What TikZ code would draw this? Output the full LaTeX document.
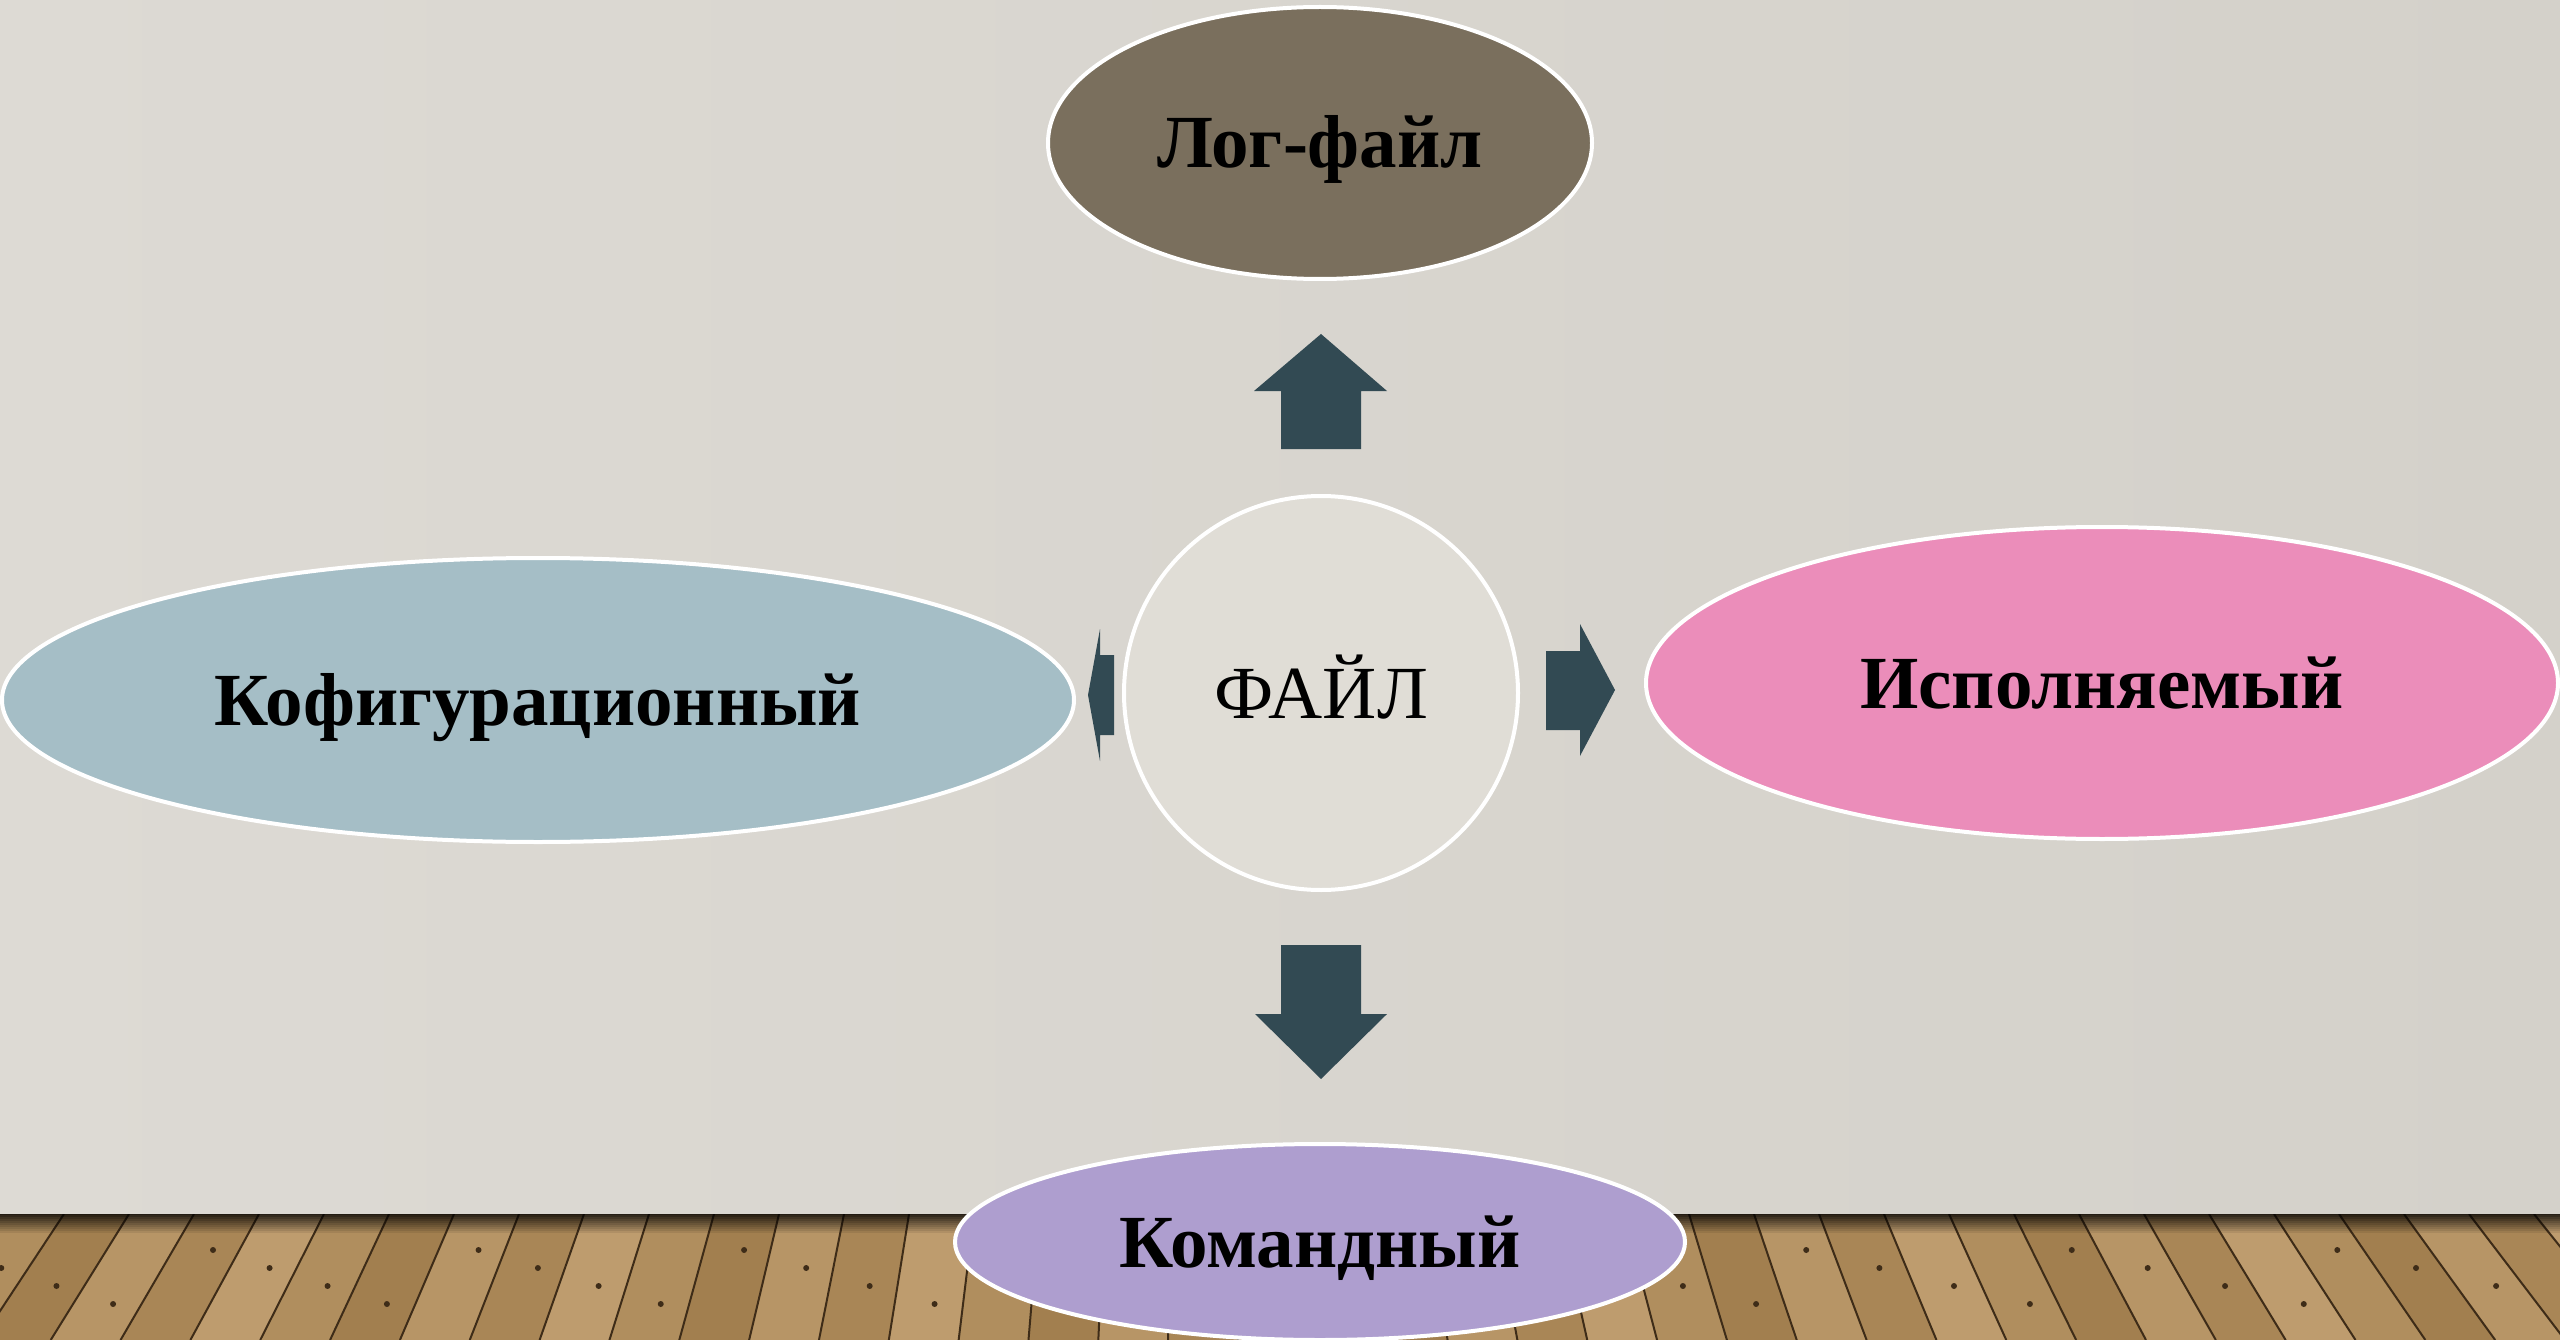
\documentclass[tikz,border=0pt]{standalone}
\usepackage{fontspec}
\setmainfont{Liberation Serif}
\usepackage{tikz}
\usetikzlibrary{shapes.geometric}

\definecolor{wallL}{HTML}{DDDAD4}
\definecolor{wallM}{HTML}{E5E3DF}
\definecolor{wallR}{HTML}{D4D1CA}
\definecolor{woodlight}{HTML}{C3A173}
\definecolor{wooddark}{HTML}{94703F}
\definecolor{woodline}{HTML}{3E2C18}
\definecolor{arrowgray}{HTML}{324A53}
\definecolor{logbrown}{HTML}{7A6F5D}
\definecolor{cfgblue}{HTML}{A5BEC6}
\definecolor{exepink}{HTML}{EB8DBA}
\definecolor{cmdlilac}{HTML}{AE9ECF}
\definecolor{filegray}{HTML}{E0DDD6}

\begin{document}
\begin{tikzpicture}[x = 1pt, y = -1pt,
    oval/.style = {ellipse, draw = white, line width = 4pt, inner sep = 0pt,
        font = \fontsize{75}{90}\selectfont\bfseries,
        text height = 50pt, text depth = 0pt},
    hub/.style = {circle, draw = white, line width = 4pt, inner sep = 0pt,
        fill = filegray, minimum size = 394pt,
        font = \fontsize{75}{90}\selectfont,
        text height = 50pt, text depth = 0pt},
    blockarrow/.style = {fill = arrowgray}]
    \useasboundingbox (0, 0) rectangle (2560, 1340);

    % wall and floor
    \shade[left color = wallL, middle color = wallM, right color = wallR]
        (0, 0) rectangle (2560, 1214);
    \begin{scope}
        \clip (0, 1214) rectangle (2560, 1340);
        \fill[wooddark] (0, 1214) rectangle (2560, 1340);
        \foreach \k in {-3, ..., 40} {
            \pgfmathsetmacro\xa{64 + 65*\k}
            \pgfmathsetmacro\xb{\xa + 65}
            \pgfmathtruncatemacro\pct{30 + 15*mod(\k*3 + 30, 5)}
            \pgfmathsetmacro\dy{1250 + 18*mod(\k + 30, 4)}
            \pgfmathsetmacro\dx{\xa + 40 + (\xa - 1180)*0.0745*(\dy - 1214)/126}
            \fill[woodlight!\pct!wooddark] (\xa, 1214) -- (\xb, 1214)
                -- ({\xb + (\xb - 1180)*0.0745}, 1340)
                -- ({\xa + (\xa - 1180)*0.0745}, 1340) -- cycle;
            \draw[woodline, line width = 2pt] (\xa, 1214)
                -- ({\xa + (\xa - 1180)*0.0745}, 1340);
            \fill[woodline] (\dx, \dy) circle (3);
        }
        \foreach \i in {0, ..., 9} {
            \pgfmathsetmacro\op{0.8 - 0.08*\i}
            \fill[black, opacity = \op] (0, 1213 + 2*\i) rectangle (2560, 1215 + 2*\i);
        }
    \end{scope}

    \node[oval, fill = logbrown, minimum width = 544pt, minimum height = 272pt]
        (log) at (1320, 143) {Лог-файл};
    \node[oval, fill = cfgblue, minimum width = 1072pt, minimum height = 284pt]
        (cfg) at (538, 700) {Кофигурационный};
    \node[oval, fill = exepink, minimum width = 912pt, minimum height = 312pt]
        (exe) at (2102, 683) {Исполняемый};
    \node[oval, fill = cmdlilac, minimum width = 730pt, minimum height = 196pt]
        (cmd) at (1320, 1242) {Командный};
    \node[hub] (file) at (1321, 693) {ФАЙЛ};

    \fill[blockarrow] (1281, 449) -- (1281, 391) -- (1254, 391) -- (1321, 334)
        -- (1387, 391) -- (1361, 391) -- (1361, 449) -- cycle;
    \fill[blockarrow] (1281, 945) -- (1361, 945) -- (1361, 1014) -- (1387, 1014)
        -- (1321, 1079) -- (1255, 1014) -- (1281, 1014) -- cycle;
    \fill[blockarrow] (1546, 651) -- (1580, 651) -- (1580, 624) -- (1615, 690)
        -- (1580, 756) -- (1580, 730) -- (1546, 730) -- cycle;
    \fill[blockarrow] (1114, 655) -- (1100, 655) -- (1100, 629) -- (1088, 695)
        -- (1100, 761) -- (1100, 735) -- (1114, 735) -- cycle;
\end{tikzpicture}
\end{document}
